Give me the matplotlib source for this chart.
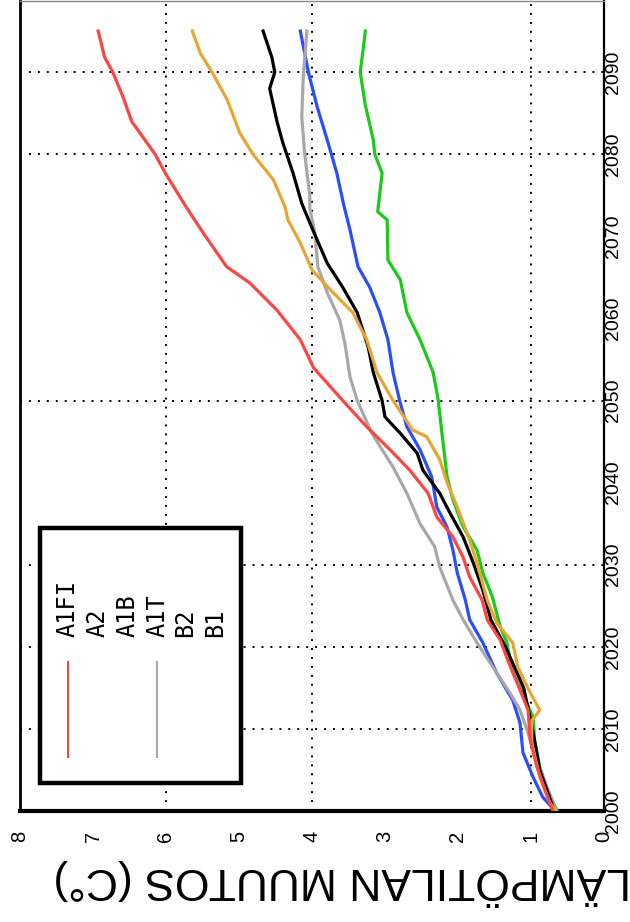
import matplotlib
matplotlib.use("Agg")
import matplotlib.pyplot as plt
from matplotlib.patches import Rectangle

plt.rcParams['font.family'] = ['Liberation Sans', 'DejaVu Sans']

# ---------------- data ----------------
series_names = ["A1FI", "A2", "A1B", "A1T", "B2", "B1"]

a1fi_years = [2000, 2002.6, 2005.4, 2008.6, 2012.3, 2015.6, 2018.4, 2020.8, 2023.3, 2025.7,
              2028.5, 2030.9, 2033.4, 2035.8, 2038.7, 2041.5, 2044, 2046.8, 2050, 2054,
              2057.4, 2061, 2064.3, 2066.3, 2070.4, 2073.8, 2077.7, 2080, 2084, 2087,
              2090, 2091.8, 2095]
a1fi_vals = [0.70, 0.81, 0.92, 1.01, 1.04, 1.19, 1.32, 1.42, 1.60, 1.67,
             1.84, 1.93, 2.07, 2.29, 2.41, 2.66, 2.93, 3.25, 3.58, 3.98,
             4.16, 4.48, 4.85, 5.17, 5.49, 5.74, 6.01, 6.15, 6.47, 6.59,
             6.73, 6.84, 6.93]

a2_years = [2000, 2001, 2004.1, 2008.3, 2011, 2012.3, 2014.4, 2017.5, 2020.5, 2022.9,
            2025.7, 2030.2, 2033, 2037, 2040, 2042.8, 2045.6, 2046.4, 2050, 2053.4,
            2057.4, 2060.7, 2063.5, 2065.9, 2069.2, 2072, 2073.6, 2076.9, 2080, 2082.6,
            2086.6, 2090, 2092.3, 2095]
a2_vals = [0.66, 0.74, 0.88, 0.99, 0.99, 0.88, 1.01, 1.18, 1.25, 1.47,
           1.60, 1.74, 1.84, 2.01, 2.15, 2.25, 2.43, 2.62, 2.89, 3.11,
           3.25, 3.44, 3.75, 4.00, 4.16, 4.33, 4.37, 4.53, 4.81, 4.99,
           5.16, 5.37, 5.53, 5.64]

a1b_years = [2000, 2005, 2010, 2015, 2020, 2023.3, 2026.9, 2030.2, 2033.4, 2036.3,
             2038.7, 2041.5, 2043.6, 2046, 2048, 2050, 2053.4, 2056.5, 2060.7, 2063.8,
             2066.7, 2070.8, 2074, 2077.7, 2081.4, 2084, 2088, 2090, 2091.8, 2095]
a1b_vals = [0.68, 0.88, 0.98, 1.10, 1.35, 1.55, 1.66, 1.79, 1.93, 2.11,
            2.25, 2.48, 2.56, 2.79, 3.00, 3.04, 3.16, 3.23, 3.38, 3.58,
            3.79, 3.99, 4.14, 4.26, 4.40, 4.48, 4.58, 4.51, 4.55, 4.67]

a1t_years = [2000, 2005, 2010, 2012.3, 2014.4, 2017.5, 2020.5, 2023.3, 2025.7, 2029.7,
             2032.2, 2035, 2038.7, 2041.9, 2046, 2050, 2052.9, 2057, 2059.8, 2063.1,
             2066.3, 2070.4, 2073.4, 2075, 2080, 2084.5, 2089.4, 2095]
a1t_vals = [0.65, 0.87, 1.06, 1.15, 1.29, 1.52, 1.74, 1.93, 2.07, 2.25,
            2.32, 2.52, 2.70, 2.89, 3.18, 3.38, 3.48, 3.55, 3.62, 3.79,
            3.92, 3.96, 4.03, 4.03, 4.10, 4.14, 4.12, 4.07]

b2_years = [2000, 2001.7, 2004.1, 2007.1, 2010.7, 2013.5, 2016.8, 2020.5, 2023.3, 2025.7,
            2029, 2031.8, 2034.6, 2037, 2040.7, 2044, 2046.8, 2050, 2053.4, 2057.4,
            2060.7, 2063.8, 2066.3, 2070.8, 2074, 2077.7, 2081.4, 2085.8, 2090, 2095]
b2_vals = [0.67, 0.84, 0.97, 1.11, 1.15, 1.25, 1.47, 1.66, 1.84, 1.90,
           2.01, 2.07, 2.15, 2.29, 2.36, 2.52, 2.70, 2.80, 2.89, 2.96,
           3.07, 3.21, 3.37, 3.48, 3.57, 3.66, 3.78, 3.93, 4.05, 4.16]

b1_years = [2000, 2002.6, 2005.4, 2008.6, 2011.4, 2014.4, 2017.2, 2020.5, 2022.4, 2026.1,
            2029, 2031.8, 2034.6, 2037.9, 2040.7, 2046, 2050, 2053.4, 2057.4, 2060.7,
            2064.7, 2067.1, 2072, 2073, 2077.7, 2080, 2081.7, 2086, 2090, 2092.7, 2095]
b1_vals = [0.64, 0.78, 0.88, 0.95, 0.97, 1.12, 1.26, 1.33, 1.42, 1.53,
           1.66, 1.74, 1.93, 2.07, 2.15, 2.22, 2.27, 2.34, 2.52, 2.70,
           2.79, 2.96, 2.97, 3.10, 3.04, 3.14, 3.16, 3.27, 3.34, 3.30, 3.27]

temp_ticks = [0, 1, 2, 3, 4, 5, 6, 7, 8]
year_ticks = [2000, 2010, 2020, 2030, 2040, 2050, 2060, 2070, 2080, 2090]
temp_grid = [1, 4, 6]
year_grid = [2010, 2020, 2030, 2050, 2080, 2090]
axis_label = "LÄMPÖTILAN MUUTOS (C°)"

# ---------------- style ----------------
colors = ["#ff4444", "#e8a535", "#000000", "#a8a8a8", "#2a4dff", "#18cc18"]
legend_line_shown = [True, False, False, True, False, False]

all_years = [a1fi_years, a2_years, a1b_years, a1t_years, b2_years, b1_years]
all_vals = [a1fi_vals, a2_vals, a1b_vals, a1t_vals, b2_vals, b1_vals]

fig = plt.figure(figsize=(6.3, 9.22), dpi=100)
fig.patch.set_facecolor("white")
ax = fig.add_axes([20 / 630, 1 - 811 / 922, 584 / 630, 810 / 922])

ax.set_xlim(8, 0)
ax.set_ylim(2000, 2000 + 810 / 8.21)

dot = (0, (1, 3.6))
for t in temp_grid:
    ax.axvline(t, color="black", lw=1.4, ls=dot, zorder=1)
for y in year_grid:
    ax.axhline(y, color="black", lw=1.4, ls=dot, zorder=1)

order = [5, 4, 3, 2, 1, 0]
for i in order:
    ax.plot(all_vals[i], all_years[i], color=colors[i], lw=2.3, zorder=3,
            solid_joinstyle="round")

# ticks
ax.set_xticks(temp_ticks)
ax.set_xticklabels([str(t) for t in temp_ticks], rotation=90, fontsize=14.5)
ax.set_xticks([0, 1, 4, 6, 8], minor=True)
ax.tick_params(axis="x", which="major", length=0, pad=14)
ax.tick_params(axis="x", which="minor", length=6, width=1.5, direction="out")

ax.yaxis.tick_right()
ax.set_yticks(year_ticks)
ax.set_yticklabels([str(y) for y in year_ticks], rotation=90, fontsize=14,
                   va="center")
ax.set_yticks([2000] + year_grid, minor=True)
ax.tick_params(axis="y", which="major", length=0, pad=0.5)
ax.tick_params(axis="y", which="minor", length=8, width=1.5, direction="inout")

for s, lw, c in [("bottom", 3.0, "black"), ("left", 2.0, "black"),
                 ("right", 1.6, "black"), ("top", 1.0, "#888888")]:
    ax.spines[s].set_linewidth(lw)
    ax.spines[s].set_color(c)

# temperature axis label (upside down)
fig.text(342 / 630, 1 - 882 / 922, axis_label, rotation=180, ha="center",
         va="center", fontsize=32)

# legend (rotated layout)
ax.add_patch(Rectangle((0.034, 0.035), 0.344, 0.314, transform=ax.transAxes,
                       facecolor="white", edgecolor="black", lw=3.2, zorder=5))
leg_x = [0.082, 0.132, 0.185, 0.235, 0.283, 0.334]
for i, name in enumerate(series_names):
    ax.text(leg_x[i], 0.215, name, transform=ax.transAxes, rotation=90,
            ha="center", va="bottom", fontsize=17, family="DejaVu Sans Mono",
            zorder=6)
    if legend_line_shown[i]:
        ax.plot([leg_x[i], leg_x[i]], [0.067, 0.184], transform=ax.transAxes,
                color=colors[i], lw=1.5, zorder=6)

fig.savefig("out.png", dpi=100, facecolor="white")
